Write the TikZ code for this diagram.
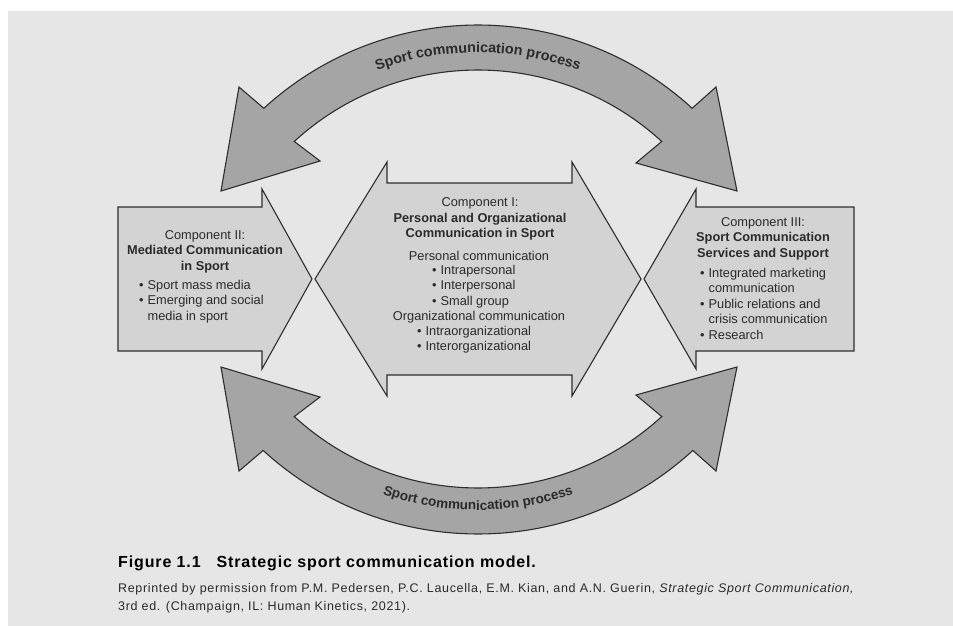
\documentclass[tikz,border=0pt]{standalone}
\usepackage{fontspec}
\setmainfont{Liberation Sans}
\newfontfamily\creditFont[LetterSpace=5.3]{Liberation Sans}
\newfontfamily\captionFont[LetterSpace=5.4]{Liberation Sans}
\usetikzlibrary{decorations.text}
\definecolor{bgGray}{HTML}{E6E6E6}
\definecolor{blockGray}{HTML}{D3D3D3}
\definecolor{bendGray}{HTML}{A5A5A5}
\definecolor{lineGray}{HTML}{2E2E2E}
\definecolor{inkGray}{HTML}{2A2A2A}
\newcommand{\bulLine}{\textbullet\hspace{4pt}}
\tikzset{
blockArrow/.style={draw=lineGray, line width=1.1pt, fill=blockGray, line join=miter},
bendArrow/.style={draw=lineGray, line width=1.1pt, fill=bendGray, line join=miter}
}

\begin{document}
\begin{tikzpicture}[x=1pt, y=-1pt]
	\tikzset{compText/.style = {text=inkGray, inner sep=0pt, font=\fontsize{12.8}{15.5}\selectfont}}
	\tikzset{compHead/.style = {compText, align=center}}
	\tikzset{compList/.style = {compText, align=left, anchor=west}}
	\tikzset{procText/.style = {decorate, decoration={text along path, text align=center, text color=inkGray,
		text={|\fontsize{#1}{16}\bfseries\selectfont|Sport communication process}}}}

	\useasboundingbox (0,0) rectangle (953,626);
	\fill[bgGray] (8,11) rectangle (953,626);

	\coordinate (topC) at (478,342);
	\coordinate (botC) at (478,216);

	\draw[bendArrow] ([shift={(132.5:317pt)}]topC) arc[start angle=132.5, end angle=47.5, radius=317pt]
		-- (716,87) -- (737,191) -- (636,163)
		-- ([shift={(47.5:272pt)}]topC) arc[start angle=47.5, end angle=132.5, radius=272pt]
		-- (320,161) -- (221,191) -- (239,87) -- cycle;
	\draw[bendArrow] ([shift={(-132.5:318pt)}]botC) arc[start angle=-132.5, end angle=-47.5, radius=318pt]
		-- (716,471) -- (737,367) -- (636,395)
		-- ([shift={(-47.5:272pt)}]botC) arc[start angle=-47.5, end angle=-132.5, radius=272pt]
		-- (320,397) -- (221,367) -- (239,471) -- cycle;

	\path[procText=14.3] ([shift={(135:289.5pt)}]topC) arc[start angle=135, end angle=45, radius=289.5pt];
	\path[procText=13.5] ([shift={(-135:294pt)}]botC) arc[start angle=-135, end angle=-45, radius=294pt];

	\draw[blockArrow] (118,207) -- (262,207) -- (262,189) -- (312,279) -- (262,369) -- (262,351) -- (118,351) -- cycle;
	\draw[blockArrow] (387,183) -- (572,183) -- (572,162) -- (641,279) -- (572,396) -- (572,375)
		-- (387,375) -- (387,396) -- (315,279) -- (387,162) -- cycle;
	\draw[blockArrow] (854,207) -- (696,207) -- (696,189) -- (644,279) -- (696,369) -- (696,351) -- (854,351) -- cycle;

	\node[compHead] (compTwoHead) at (205,251.5) {Component II:\\ \textbf{Mediated Communication}\\ \textbf{in Sport}};
	\node[compList] (compTwoList) at (139,301.5) {\bulLine Sport mass media\\ \bulLine Emerging and social\\ \hphantom{\bulLine}media in sport};

	\node[compHead] (compOneHead) at (480,219) {Component I:\\ \textbf{Personal and Organizational}\\ \textbf{Communication in Sport}};
	\node[compText] (persComm) at (479,256) {Personal communication};
	\node[compList] (persList) at (432,286.3) {\bulLine Intrapersonal\\ \bulLine Interpersonal\\ \bulLine Small group};
	\node[compText] (orgComm) at (479,317) {Organizational communication};
	\node[compList] (orgList) at (417,339.5) {\bulLine Intraorganizational\\ \bulLine Interorganizational};

	\node[compHead] (compThreeHead) at (763,238.7) {Component III:\\ \textbf{Sport Communication}\\ \textbf{Services and Support}};
	\node[compList] (compThreeList) at (700,303.5) {\bulLine Integrated marketing\\ \hphantom{\bulLine}communication\\ \bulLine Public relations and\\ \hphantom{\bulLine}crisis communication\\ \bulLine Research};

	\node[anchor=base west, inner sep=0pt, text=black, font=\captionFont\fontsize{16}{19}\bfseries\selectfont] (figTitle) at (118,567) {Figure 1.1\hspace{16pt}Strategic sport communication model.};
	\node[anchor=base west, inner sep=0pt, text=inkGray, font=\creditFont\fontsize{12.5}{18}\selectfont] (figCredit) at (118,592) {Reprinted by permission from P.M. Pedersen, P.C. Laucella, E.M. Kian, and A.N. Guerin, \textit{Strategic Sport Communication,}};
	\node[anchor=base west, inner sep=0pt, text=inkGray, font=\creditFont\fontsize{12.5}{18}\selectfont] (figCreditTwo) at (118,610) {3rd ed. (Champaign, IL: Human Kinetics, 2021).};
\end{tikzpicture}
\end{document}
